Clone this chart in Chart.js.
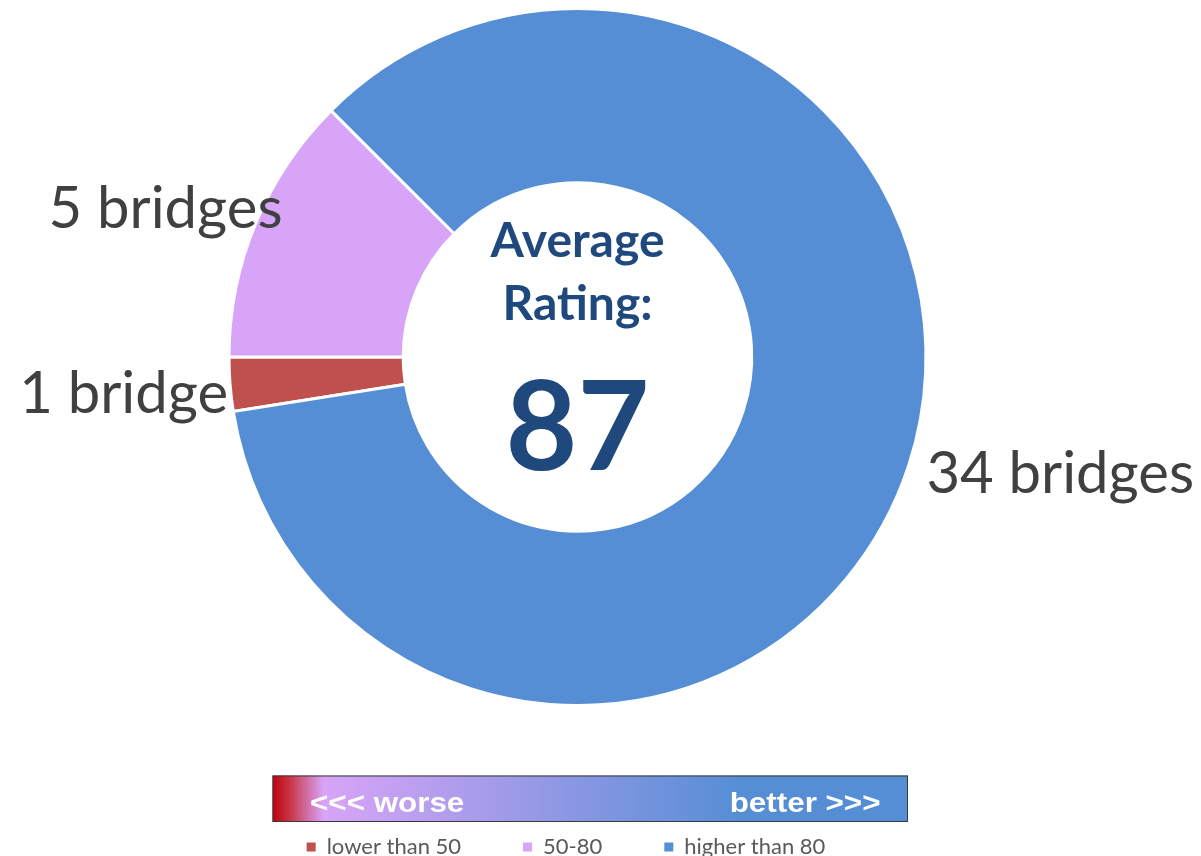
<!DOCTYPE html>
<html><head><meta charset="utf-8">
<script src="https://cdn.jsdelivr.net/npm/chart.js@4.4.0/dist/chart.umd.min.js"></script>
<style>
html,body{margin:0;padding:0;background:#fff;overflow:hidden;}
#wrap{position:relative;width:1201px;height:868px;}
</style></head><body>
<div id="wrap"><canvas id="c"></canvas></div>
<script>
// ---- data ----
const categories = ['lower than 50', '50-80', 'higher than 80'];
const bridgeCounts = [1, 5, 34];
const averageRating = 87;
const centerTitle = ['Average', 'Rating:'];
const scaleEnds = ['<<< worse', 'better >>>'];

// ---- styles ----
const sliceColors = ['#C0504D', '#D8A4F7', '#558ED5'];
const labelStyle = {
  font: '58px Lato', color: '#404040',
  // [dx, dy, align] relative to the outer mid-point of each slice
  offsets: [[-2, 29, 'right'], [27, 4, 'right'], [17.5, 28, 'left']]
};
const centerStyle = { color: '#1F497D', titleFont: 'bold 48px Lato', titleY: [-100, -37], numFont: 'bold 124px Lato', numY: 113 };
const barStyle = { left: 272.5, top: 775.5, width: 635.5, height: 46.5, font: 'bold 28px "Liberation Sans", Arial', scaleX: 1.12, textInset: 37.5, baseline: 36.5 };

const sliceLabels = {
  id: 'sliceLabels',
  afterDatasetsDraw(chart) {
    const ctx = chart.ctx;
    const meta = chart.getDatasetMeta(0);
    ctx.save();
    ctx.font = labelStyle.font;
    ctx.fillStyle = labelStyle.color;
    ctx.textBaseline = 'alphabetic';
    meta.data.forEach((arc, i) => {
      const p = arc.getProps(['x', 'y', 'startAngle', 'endAngle', 'outerRadius'], true);
      const mid = (p.startAngle + p.endAngle) / 2;
      const px = p.x + Math.cos(mid) * p.outerRadius;
      const py = p.y + Math.sin(mid) * p.outerRadius;
      const [dx, dy, align] = labelStyle.offsets[i];
      const v = bridgeCounts[i];
      ctx.textAlign = align;
      ctx.fillText(v + (v === 1 ? ' bridge' : ' bridges'), px + dx, py + dy);
    });
    // centre text
    const c = meta.data[0].getProps(['x', 'y'], true);
    ctx.fillStyle = centerStyle.color;
    ctx.textAlign = 'center';
    ctx.font = centerStyle.titleFont;
    centerTitle.forEach((t, i) => ctx.fillText(t, c.x, c.y + centerStyle.titleY[i]));
    ctx.font = centerStyle.numFont;
    ctx.fillText(String(averageRating), c.x, c.y + centerStyle.numY);
    ctx.restore();
  },
  afterDraw(chart) {
    const ctx = chart.ctx;
    const b = barStyle;
    ctx.save();
    const g = ctx.createLinearGradient(b.left, 0, b.left + b.width, 0);
    g.addColorStop(0, '#BE0010');
    g.addColorStop(0.025, '#C8303E');
    g.addColorStop(0.08, '#D8A4F7');
    g.addColorStop(0.74, sliceColors[2]);
    g.addColorStop(1, sliceColors[2]);
    ctx.fillStyle = g;
    ctx.fillRect(b.left, b.top, b.width, b.height);
    ctx.strokeStyle = '#3a3a3a';
    ctx.lineWidth = 1;
    ctx.strokeRect(b.left + 0.5, b.top + 0.5, b.width - 1, b.height - 1);
    ctx.fillStyle = '#ffffff';
    ctx.font = b.font;
    ctx.textBaseline = 'alphabetic';
    ctx.save();
    ctx.translate(b.left + b.textInset, b.top + b.baseline);
    ctx.scale(b.scaleX, 1);
    ctx.textAlign = 'left';
    ctx.fillText(scaleEnds[0], 0, 0);
    ctx.restore();
    ctx.save();
    ctx.translate(b.left + b.width - b.textInset + 10, b.top + b.baseline);
    ctx.scale(b.scaleX, 1);
    ctx.textAlign = 'right';
    ctx.fillText(scaleEnds[1], 0, 0);
    ctx.restore();
    ctx.restore();
  }
};

new Chart(document.getElementById('c'), {
  type: 'doughnut',
  data: {
    labels: categories,
    datasets: [{
      data: bridgeCounts,
      backgroundColor: sliceColors,
      borderColor: '#ffffff',
      borderWidth: 3
    }]
  },
  options: {
    responsive: true,
    maintainAspectRatio: false,
    animation: false,
    events: [],
    rotation: 261,
    cutout: '50%',
    layout: { padding: { top: 7, left: 0, right: 69, bottom: 0 } },
    plugins: {
      tooltip: { enabled: false },
      // invisible spacer boxes used only for layout
      title: { display: true, position: 'bottom', text: ' ', font: { size: 1 }, padding: { top: 65.8, bottom: 0 }, weight: 500 },
      subtitle: { display: true, position: 'left', fullSize: false, text: ' ', font: { size: 1 }, padding: { top: 21.8, bottom: 0 } },
      legend: {
        position: 'bottom',
        labels: {
          boxWidth: 9, boxHeight: 9, padding: 62,
          color: '#595959',
          font: { family: 'Lato', size: 22 },
          generateLabels(chart) {
            const items = Chart.overrides.doughnut.plugins.legend.labels.generateLabels(chart);
            return items.map(it => Object.assign(it, { lineWidth: 0, strokeStyle: it.fillStyle }));
          }
        }
      }
    }
  },
  plugins: [sliceLabels]
});
</script>
</body></html>
